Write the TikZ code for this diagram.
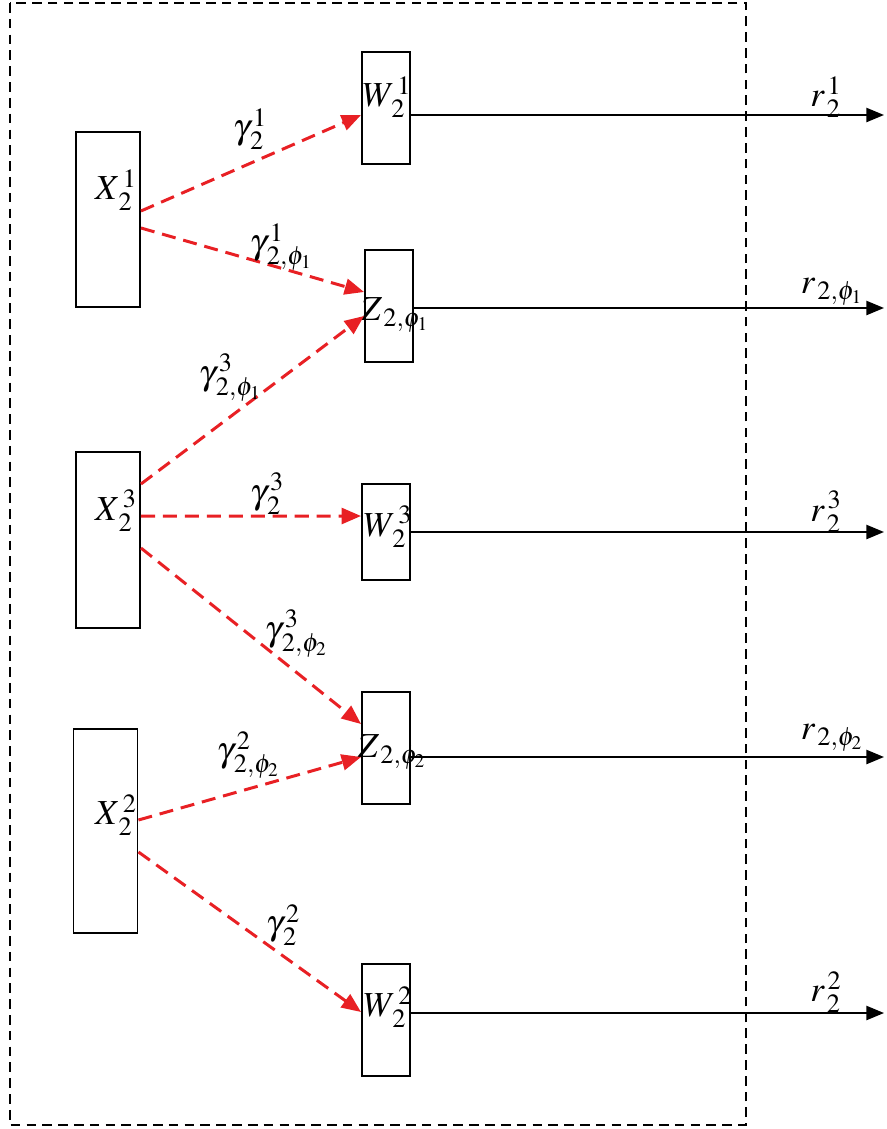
\documentclass[tikz,border=0pt]{standalone}
\usepackage{amsmath}
\usepackage{mathptmx}
\usepackage{xcolor}
\usepackage{tikz}
\usetikzlibrary{arrows.meta}

\DeclareMathSizes{20}{20}{15}{11}
\definecolor{linkred}{RGB}{232,32,36}

\begin{document}
\begin{tikzpicture}[x=0.02cm, y=-0.02cm,
    every node/.style={font=\fontsize{20}{24}\selectfont},
    block/.style={rectangle, draw=black, line width=1.1pt, fill=white, inner sep=0pt},
    srcbox/.style={block, minimum width=1.28cm},
    outbox/.style={block, minimum width=0.96cm, minimum height=2.24cm},
    flow/.style={draw=linkred, line width=1.7pt, dash pattern=on 8pt off 4.5pt, -{Triangle[length=11pt,width=9pt]}},
    outarrow/.style={draw=black, line width=1.1pt, -{Triangle[length=10pt,width=8pt]}}]
    \useasboundingbox (0,0) rectangle (886,1129);

    % Frame
    \draw[line width=1.1pt, dash pattern=on 5.5pt off 3.5pt] (10,3) rectangle (746,1125);

    % Source boxes
    \node[srcbox, minimum height=3.5cm] (X1) at (108,219.5) {};
    \node[srcbox, minimum height=3.52cm] (X3) at (108,540) {};
    \node[srcbox, minimum height=4.08cm] (X2) at (105.5,831) {};
    \node at (116,190) {$X^{\,1}_{\,2}$};
    \node at (116,511) {$X^{\,3}_{\,2}$};
    \node at (116,815) {$X^{\,2}_{\,2}$};

    % Output boxes
    \node[outbox] (W1) at (386,108) {};
    \node[outbox] (Z1) at (389,306) {};
    \node[outbox, minimum height=1.92cm] (W3) at (386,532) {};
    \node[outbox] (Z2) at (386,748) {};
    \node[outbox] (W2) at (386,1020) {};
    \node at (387,97) {$W^{\,1}_{\,2}$};
    \node at (395,315) {$Z_{\,2,\phi_1}$};
    \node at (388,527) {$W^{\,3}_{\,2}$};
    \node at (392,752) {$Z_{\,2,\phi_2}$};
    \node at (388,1007) {$W^{\,2}_{\,2}$};

    % Dashed links
    \draw[flow] ([yshift=0.17cm]X1.east) -- ([yshift=-0.14cm]W1.west);
    \draw[flow] ([yshift=-0.17cm]X1.east) -- ([yshift=0.28cm]Z1.west);
    \draw[flow] ([yshift=1.12cm]X3.east) -- ([yshift=-0.2cm]Z1.west);
    \draw[flow] ([yshift=0.48cm]X3.east) -- ([yshift=0.32cm]W3.west);
    \draw[flow] ([yshift=-0.16cm]X3.east) -- ([yshift=0.48cm]Z2.west);
    \draw[flow] ([yshift=0.22cm]X2.east) -- ([yshift=-0.18cm]Z2.west);
    \draw[flow] ([yshift=-0.42cm]X2.east) -- ([yshift=0.16cm]W2.west);

    % Link labels
    \node at (250,129) {$\gamma^{\,1}_{\,2}$};
    \node at (281,247) {$\gamma^{\,1}_{\,2,\phi_1}$};
    \node at (230,378) {$\gamma^{\,3}_{\,2,\phi_1}$};
    \node at (267,494) {$\gamma^{\,3}_{\,2}$};
    \node at (296,634) {$\gamma^{\,3}_{\,2,\phi_2}$};
    \node at (248,755) {$\gamma^{\,2}_{\,2,\phi_2}$};
    \node at (283,925) {$\gamma^{\,2}_{\,2}$};

    % Outputs
    \coordinate (e1) at (884,115);
    \coordinate (e2) at (884,308);
    \coordinate (e3) at (884,532);
    \coordinate (e4) at (884,757);
    \coordinate (e5) at (884,1013);
    \draw[outarrow] (W1.east |- e1) -- (e1);
    \draw[outarrow] (Z1.east |- e2) -- (e2);
    \draw[outarrow] (W3.east |- e3) -- (e3);
    \draw[outarrow] (Z2.east |- e4) -- (e4);
    \draw[outarrow] (W2.east |- e5) -- (e5);
    \node at (826,97) {$r^{\,1}_{\,2}$};
    \node at (832,292) {$r_{\,2,\phi_1}$};
    \node at (826,512) {$r^{\,3}_{\,2}$};
    \node at (832,738) {$r_{\,2,\phi_2}$};
    \node at (826,992) {$r^{\,2}_{\,2}$};
\end{tikzpicture}
\end{document}
